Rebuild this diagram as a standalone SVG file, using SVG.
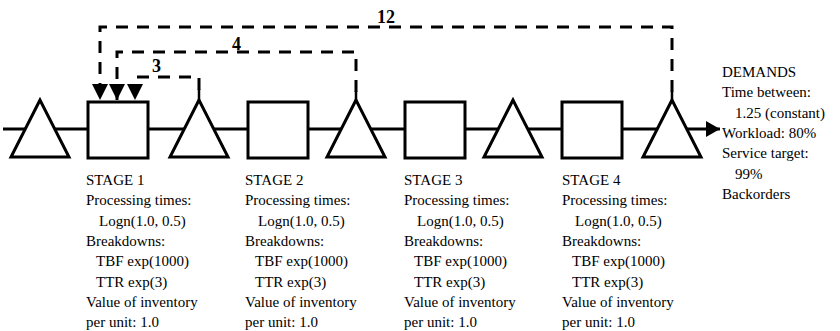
<svg xmlns="http://www.w3.org/2000/svg" width="840" height="331" viewBox="0 0 840 331">
<style>
.shape{fill:#fff;stroke:#000;stroke-width:3;stroke-linejoin:miter}
.flow{fill:none;stroke:#000;stroke-width:3}
.dash{fill:none;stroke:#000;stroke-width:3;stroke-dasharray:12 9}
.tick{stroke:#000;stroke-width:2.5}
.lbl{font-family:"Liberation Serif","Times New Roman",serif;font-weight:bold;font-size:18px;fill:#000}
.txt{font-family:"Liberation Serif","Times New Roman",serif;font-size:15px;fill:#000}
</style>
<defs>
<marker id="ah" viewBox="0 0 16 16" refX="16" refY="8" markerWidth="16" markerHeight="16" markerUnits="userSpaceOnUse" orient="auto">
<path d="M0,0 L16,8 L0,16 z" fill="#000"/>
</marker>
<marker id="ah2" viewBox="0 0 14 16" refX="14" refY="8" markerWidth="14" markerHeight="16" markerUnits="userSpaceOnUse" orient="auto">
<path d="M0,0 L14,8 L0,16 z" fill="#000"/>
</marker>
</defs>
<g id="connectors">
<path class="flow" d="M3,129 H720" marker-end="url(#ah2)"/>
<path class="dash" d="M672,92 V27 H100 V100" marker-end="url(#ah)"/>
<path class="dash" d="M356,92 V52 H117 V100" marker-end="url(#ah)"/>
<path class="dash" d="M199,90 V77 H135 V100" marker-end="url(#ah)"/>
<line class="tick" x1="672" y1="91" x2="672" y2="101"/>
<line class="tick" x1="356" y1="91" x2="356" y2="101"/>
<line class="tick" x1="199" y1="89" x2="199" y2="101"/>
<text class="lbl" x="377" y="23">12</text>
<text class="lbl" x="232" y="50">4</text>
<text class="lbl" x="152" y="72">3</text>
</g>
<g id="buffer0"><polygon class="shape" points="40,100 11,157 69,157"/></g>
<g id="stage1"><rect class="shape" x="88" y="102" width="60" height="56"/></g>
<g id="buffer1"><polygon class="shape" points="199,100 170,157 228,157"/></g>
<g id="stage2"><rect class="shape" x="248" y="102" width="60" height="56"/></g>
<g id="buffer2"><polygon class="shape" points="356,100 327,157 385,157"/></g>
<g id="stage3"><rect class="shape" x="405" y="102" width="60" height="56"/></g>
<g id="buffer3"><polygon class="shape" points="513,100 484,157 542,157"/></g>
<g id="stage4"><rect class="shape" x="562" y="102" width="60" height="56"/></g>
<g id="buffer4"><polygon class="shape" points="672,100 643,157 701,157"/></g>
<g id="stage1-info" class="txt">
<text x="86" y="185">STAGE 1</text>
<text x="86" y="205.3">Processing times:</text>
<text x="99" y="225.6">Logn(1.0, 0.5)</text>
<text x="86" y="245.9">Breakdowns:</text>
<text x="96" y="266.2">TBF exp(1000)</text>
<text x="96" y="286.5">TTR exp(3)</text>
<text x="86" y="306.8">Value of inventory</text>
<text x="86" y="327">per unit: 1.0</text>
</g>
<g id="stage2-info" class="txt">
<text x="245" y="185">STAGE 2</text>
<text x="245" y="205.3">Processing times:</text>
<text x="258" y="225.6">Logn(1.0, 0.5)</text>
<text x="245" y="245.9">Breakdowns:</text>
<text x="255" y="266.2">TBF exp(1000)</text>
<text x="255" y="286.5">TTR exp(3)</text>
<text x="245" y="306.8">Value of inventory</text>
<text x="245" y="327">per unit: 1.0</text>
</g>
<g id="stage3-info" class="txt">
<text x="404" y="185">STAGE 3</text>
<text x="404" y="205.3">Processing times:</text>
<text x="417" y="225.6">Logn(1.0, 0.5)</text>
<text x="404" y="245.9">Breakdowns:</text>
<text x="414" y="266.2">TBF exp(1000)</text>
<text x="414" y="286.5">TTR exp(3)</text>
<text x="404" y="306.8">Value of inventory</text>
<text x="404" y="327">per unit: 1.0</text>
</g>
<g id="stage4-info" class="txt">
<text x="562" y="185">STAGE 4</text>
<text x="562" y="205.3">Processing times:</text>
<text x="575" y="225.6">Logn(1.0, 0.5)</text>
<text x="562" y="245.9">Breakdowns:</text>
<text x="572" y="266.2">TBF exp(1000)</text>
<text x="572" y="286.5">TTR exp(3)</text>
<text x="562" y="306.8">Value of inventory</text>
<text x="562" y="327">per unit: 1.0</text>
</g>
<g id="demands" class="txt">
<text x="722" y="77">DEMANDS</text>
<text x="722" y="97.3">Time between:</text>
<text x="735" y="117.6">1.25 (constant)</text>
<text x="722" y="137.9">Workload: 80%</text>
<text x="722" y="158.2">Service target:</text>
<text x="735" y="178.5">99%</text>
<text x="722" y="198.8">Backorders</text>
</g>
</svg>
